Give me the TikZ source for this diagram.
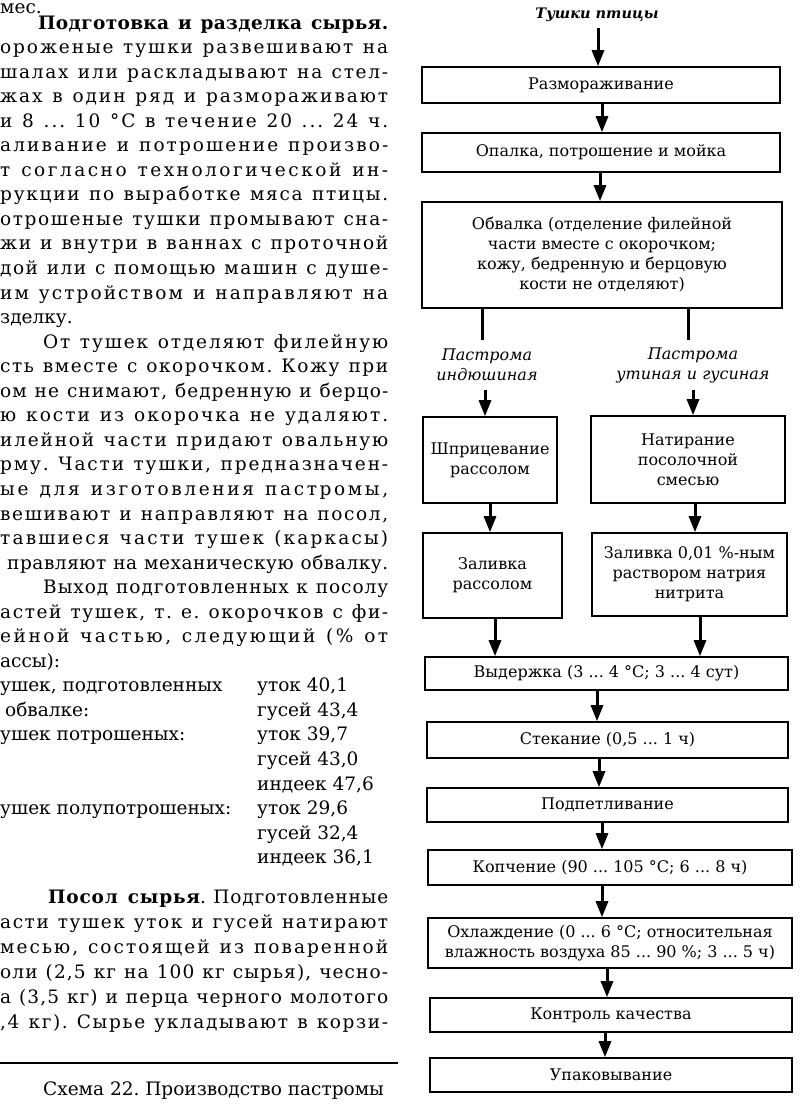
\documentclass[tikz,border=0pt]{standalone}
\usepackage{fontspec}
\setmainfont{DejaVu Serif}
\newfontfamily\hbf{DejaVu Serif}[LetterSpace=8]
\usetikzlibrary{arrows.meta}
\frenchspacing
\XeTeXinterchartoks 0 0 = {\hskip 0pt plus 1.5pt\relax}
\newcommand\jline[4]{\node[tl] (#1) at (#2,#3) {\makebox[\dimexpr388pt-#2pt\relax][s]{\XeTeXinterchartokenstate=1 #4}};}
\newcommand\nline[4]{\node[tl] (#1) at (#2,#3) {#4};}
\begin{document}
\begin{tikzpicture}[x=1pt,y=-1pt,
  tl/.style={anchor=base west, inner sep=0pt, font=\fontsize{18.5}{22}\selectfont},
  box/.style={draw, line width=1.6pt, inner sep=2pt, align=center, font=\fontsize{16}{20}\selectfont},
  lab/.style={align=center, inner sep=1pt, font=\itshape\fontsize{16}{20}\selectfont},
  arr/.style={line width=3pt, -{Triangle[width=12pt,length=16pt]}},
  bar/.style={line width=3pt}]
\useasboundingbox (0,0) rectangle (802,1104);
\clip (0,0) rectangle (802,1104);
\fill[white] (0,0) rectangle (802,1104);
% ---------- left column text ----------
\nline{l0}{0}{13}{мес.}
\jline{l1}{38}{29}{{\hbf\bfseries Подготовка и разделка сырья.}}
\jline{l2}{0}{53.55}{ороженые тушки развешивают на}
\jline{l3}{0}{78.1}{шалах или раскладывают на стел-}
\jline{l4}{0}{102.65}{жах в один ряд и размораживают}
\jline{l5}{0}{127.2}{и 8 ... 10 °С в течение 20 ... 24 ч.}
\jline{l6}{0}{151.75}{аливание и потрошение произво-}
\jline{l7}{0}{176.3}{т согласно технологической ин-}
\jline{l8}{0}{200.85}{рукции по выработке мяса птицы.}
\jline{l9}{0}{225.4}{отрошеные тушки промывают сна-}
\jline{l10}{0}{249.95}{жи и внутри в ваннах с проточной}
\jline{l11}{0}{274.5}{дой или с помощью машин с душе-}
\jline{l12}{0}{299.05}{им устройством и направляют на}
\nline{l13}{0}{323.6}{зделку.}
\jline{l14}{43}{348.15}{От тушек отделяют филейную}
\jline{l15}{0}{372.7}{сть вместе с окорочком. Кожу при}
\jline{l16}{0}{397.25}{ом не снимают, бедренную и берцо-}
\jline{l17}{0}{421.8}{ю кости из окорочка не удаляют.}
\jline{l18}{0}{446.35}{илейной части придают овальную}
\jline{l19}{0}{470.9}{рму. Части тушки, предназначен-}
\jline{l20}{0}{495.45}{ые для изготовления пастромы,}
\jline{l21}{0}{520}{вешивают и направляют на посол,}
\jline{l22}{0}{544.55}{тавшиеся части тушек (каркасы)}
\jline{l23}{7}{569.1}{правляют на механическую обвалку.}
\jline{l24}{43}{593.65}{Выход подготовленных к посолу}
\jline{l25}{0}{618.2}{астей тушек, т. е. окорочков с фи-}
\jline{l26}{0}{642.75}{ейной частью, следующий (\% от}
\nline{l27}{0}{667.3}{ассы):}
\nline{l28}{0}{691.85}{ушек, подготовленных}
\nline{l29}{5}{716.4}{обвалке:}
\nline{l30}{0}{740.95}{ушек потрошеных:}
\nline{l33}{0}{814.6}{ушек полупотрошеных:}
\nline{n1}{257}{691.85}{уток 40,1}
\nline{n2}{257}{716.4}{гусей 43,4}
\nline{n3}{257}{740.95}{уток 39,7}
\nline{n4}{257}{765.5}{гусей 43,0}
\nline{n5}{257}{790.05}{индеек 47,6}
\nline{n6}{257}{814.6}{уток 29,6}
\nline{n7}{257}{839.15}{гусей 32,4}
\nline{n8}{257}{863.7}{индеек 36,1}
\jline{l36}{48}{903}{{\hbf\bfseries Посол сырья}. Подготовленные}
\jline{l37}{0}{928}{асти тушек уток и гусей натирают}
\jline{l38}{0}{953}{месью, состоящей из поваренной}
\jline{l39}{0}{978}{оли (2,5 кг на 100 кг сырья), чесно-}
\jline{l40}{0}{1003}{а (3,5 кг) и перца черного молотого}
\jline{l41}{0}{1028}{,4 кг). Сырье укладывают в корзи-}
\coordinate (r1) at (0,1063);
\coordinate (r2) at (398,1063);
\draw[line width=1.5pt] (r1) -- (r2);
\nline{cap}{43}{1095}{Схема 22. Производство пастромы}
% ---------- flowchart ----------
\node[lab, font=\bfseries\itshape\fontsize{14.5}{20}\selectfont] (top) at (597,15) {Тушки птицы};
\node[box, minimum width=358pt, minimum height=36pt] (b1) at (601,85) {Размораживание};
\node[box, minimum width=358pt, minimum height=39pt] (b2) at (601,152.5) {Опалка, потрошение и мойка};
\node[box, minimum width=360pt, minimum height=106pt] (b3) at (602,255) {Обвалка (отделение филейной\\части вместе с окорочком;\\кожу, бедренную и берцовую\\кости не отделяют)};
\node[lab] (la) at (487,365) {Пастрома\\индюшиная};
\node[lab] (lb) at (693,365) {Пастрома\\утиная и гусиная};
\node[box, minimum width=134pt, minimum height=86pt] (c1) at (490,460) {Шприцевание\\рассолом};
\node[box, minimum width=194pt, minimum height=87pt] (d1) at (688,459.5) {Натирание\\посолочной\\смесью};
\node[box, minimum width=139pt, minimum height=85pt] (c2) at (492.5,575.5) {Заливка\\рассолом};
\node[box, minimum width=195pt, minimum height=83pt] (d2) at (689.5,574.5) {Заливка 0,01 \%-ным\\раствором натрия\\нитрита};
\node[box, minimum width=363pt, minimum height=33pt] (b6) at (606.5,673.5) {Выдержка (3 ... 4 °С; 3 ... 4 сут)};
\node[box, minimum width=361pt, minimum height=36pt] (b7) at (607.5,740) {Стекание (0,5 ... 1 ч)};
\node[box, minimum width=361pt, minimum height=34pt] (b8) at (607.5,805) {Подпетливание};
\node[box, minimum width=364pt, minimum height=35pt] (b9) at (610,867.5) {Копчение (90 ... 105 °С; 6 ... 8 ч)};
\node[box, minimum width=364pt, minimum height=50pt] (b10) at (610,943) {Охлаждение (0 ... 6 °С; относительная\\влажность воздуха 85 ... 90 \%; 3 ... 5 ч)};
\node[box, minimum width=362pt, minimum height=34pt] (b11) at (611,1015) {Контроль качества};
\node[box, minimum width=362pt, minimum height=34pt] (b12) at (611,1075) {Упаковывание};
% connectors
\coordinate (t0) at (598,28);
\draw[arr] (t0) -- (b1.north -| t0);
\draw[arr] (b1.south -| 602,0) -- (b2.north -| 602,0);
\draw[arr] (b2.south -| 600,0) -- (b3.north -| 600,0);
\coordinate (s1) at (482,340);
\coordinate (s2) at (688,340);
\draw[bar] (b3.south -| s1) -- (s1);
\draw[bar] (b3.south -| s2) -- (s2);
\coordinate (t1) at (485,390);
\coordinate (t2) at (693,390);
\draw[arr] (t1) -- (c1.north -| t1);
\draw[arr] (t2) -- (d1.north -| t2);
\draw[arr] (c1.south -| 490,0) -- (c2.north -| 490,0);
\draw[arr] (d1.south -| 695,0) -- (d2.north -| 695,0);
\draw[arr] (c2.south -| 495,0) -- (b6.north -| 495,0);
\draw[arr] (d2.south -| 700,0) -- (b6.north -| 700,0);
\draw[arr] (b6.south -| 597,0) -- (b7.north -| 597,0);
\draw[arr] (b7.south -| 599,0) -- (b8.north -| 599,0);
\draw[arr] (b8.south -| 602,0) -- (b9.north -| 602,0);
\draw[arr] (b9.south -| 602,0) -- (b10.north -| 602,0);
\draw[arr] (b10.south -| 607,0) -- (b11.north -| 607,0);
\draw[arr] (b11.south -| 605,0) -- (b12.north -| 605,0);
\end{tikzpicture}
\end{document}
